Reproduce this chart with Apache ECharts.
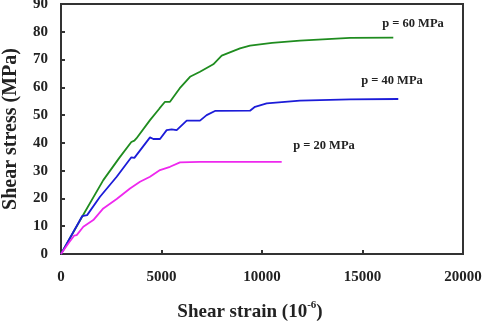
<!DOCTYPE html>
<html><head><meta charset="utf-8">
<script src="https://cdn.jsdelivr.net/npm/echarts@6/dist/echarts.min.js"></script>
<style>html,body{margin:0;padding:0;background:#fff}#c{width:485px;height:335px}</style>
</head><body><div id="c"></div>
<script>
// Data (x: shear strain 10^-6, y: shear stress MPa)
var p60 = [[0,0],[1000,12.8],[2104,26.6],[2900,34.6],[3500,40.3],[3650,40.8],[3750,41.6],[4428,48.2],[4900,52.4],[5174,54.8],[5423,54.8],[5900,59.6],[6418,63.8],[6915,65.6],[7577,68.3],[7995,71.4],[8905,74.0],[9403,75.0],[10500,76.0],[11890,76.8],[14378,77.8],[16532,77.9]];
var p40 = [[0,0],[900,11.6],[1050,13.6],[1300,14.0],[1940,20.6],[2771,27.8],[3500,34.8],[3650,34.6],[4428,42.0],[4593,41.4],[4925,41.4],[5257,44.6],[5507,44.9],[5756,44.6],[6253,48.0],[6915,48.0],[7246,50.0],[7660,51.5],[9403,51.6],[9652,53.0],[10233,54.2],[11890,55.2],[14378,55.7],[16780,55.8]];
var p20 = [[0,0],[363,3.8],[650,6.6],[781,6.8],[1110,9.8],[1607,12.2],[2104,16.4],[2771,19.8],[3433,23.6],[3930,26.0],[4428,27.8],[4925,30.2],[5423,31.4],[5920,33.0],[6915,33.2],[10980,33.2]];
var xTicks = [0,5000,10000,15000,20000];
var yTicks = [0,10,20,30,40,50,60,70,80,90];
var labels = [
  {text:'p = 60 MPa', coord:[17512,82.8]},
  {text:'p = 40 MPa', coord:[16467,62.3]},
  {text:'p = 20 MPa', coord:[13084,38.9]}
];
var colors = ['#1f8c1f','#1c1cd8','#ee28ee'];
var font = '"Liberation Serif","Times New Roman",serif';

var chart = echarts.init(document.getElementById('c'));
function mkLabel(l){
  return {symbol:'none', data:[{coord:l.coord, symbol:'circle', symbolSize:0,
    label:{show:true, formatter:l.text, position:'inside', color:'#222', fontFamily:font, fontWeight:'bold', fontSize:12.5}}]};
}
var seriesData = [p60,p40,p20];
chart.setOption({
  animation:false,
  grid:{left:61, right:22, top:4, bottom:81, show:true, borderColor:'#333', borderWidth:2, containLabel:false, outerBoundsMode:'none'},
  xAxis:{type:'value', min:0, max:20000, interval:5000,
    axisLine:{show:true, lineStyle:{color:'#333', width:2}},
    axisTick:{show:true, inside:true, length:4, lineStyle:{color:'#333', width:2}},
    splitLine:{show:false},
    axisLabel:{color:'#222', fontFamily:font, fontWeight:'bold', fontSize:15, margin:16, formatter:function(v){return String(v);}},
    name:'Shear strain (10{sup|-6})', nameLocation:'middle', nameGap:46,
    nameTextStyle:{color:'#222', fontFamily:font, fontWeight:'bold', fontSize:19, lineHeight:24, padding:[0,24,0,0],
      rich:{sup:{fontFamily:font, fontWeight:'bold', fontSize:11, verticalAlign:'top', lineHeight:24, padding:[0,0,9,0]}}}
  },
  yAxis:{type:'value', min:0, max:90, interval:10,
    axisLine:{show:true, lineStyle:{color:'#333', width:2}},
    axisTick:{show:true, inside:true, length:4, lineStyle:{color:'#333', width:2}},
    splitLine:{show:false},
    axisLabel:{color:'#222', fontFamily:font, fontWeight:'bold', fontSize:15, margin:13},
    name:'Shear stress (MPa)', nameLocation:'middle', nameGap:40,
    nameTextStyle:{color:'#222', fontFamily:font, fontWeight:'bold', fontSize:20}
  },
  series: seriesData.map(function(d,i){
    return {type:'line', data:d, showSymbol:false, symbol:'none',
      lineStyle:{color:colors[i], width:1.8}, itemStyle:{color:colors[i]},
      markPoint: mkLabel(labels[i])};
  })
});
</script></body></html>
